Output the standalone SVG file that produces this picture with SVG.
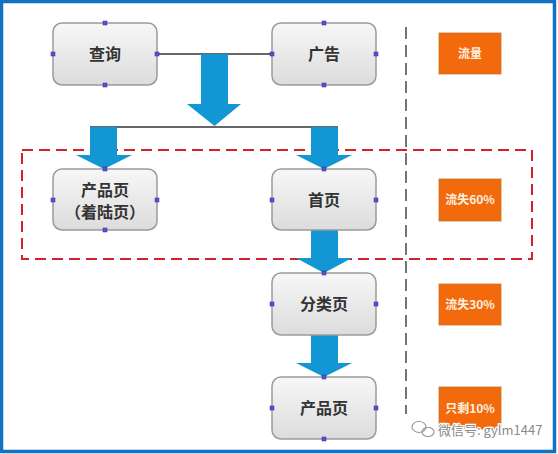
<svg xmlns="http://www.w3.org/2000/svg" width="558" height="454" viewBox="0 0 558 454">
<defs>
<linearGradient id="g" x1="0" y1="0" x2="0" y2="1">
<stop offset="0" stop-color="#f7f7f7"/>
<stop offset="1" stop-color="#dcdcdc"/>
</linearGradient>
<style>
.node{fill:url(#g);stroke:#9a9a9a;stroke-width:1.5}
.t{font-family:"Noto Sans CJK SC","Liberation Sans",sans-serif;font-size:16px;font-weight:bold;fill:#333;text-anchor:middle}
.tag{fill:#f26a0c;stroke:#c0772e;stroke-width:0.8}
.tt{font-family:"Noto Sans CJK SC","Liberation Sans",sans-serif;font-size:12px;font-weight:bold;fill:#fdf0e0;text-anchor:middle}
.arr{fill:#1296d4}
.mk{fill:#5a52d0;stroke:#2a2aa0;stroke-width:0.5}
</style>
</defs>
<rect x="0" y="0" width="558" height="454" fill="#fff"/>
<rect x="1.5" y="1.5" width="553" height="450" fill="none" stroke="#1172c4" stroke-width="3.5"/>

<rect x="22" y="150" width="510" height="109" fill="none" stroke="#d2232a" stroke-width="2" stroke-dasharray="11,6"/>
<line x1="406" y1="27" x2="406" y2="414" stroke="#666" stroke-width="1.8" stroke-dasharray="12,6"/>

<g id="connectors">
<line x1="157" y1="54" x2="272" y2="54" stroke="#333" stroke-width="1.5"/>
<line x1="90" y1="127" x2="338" y2="127" stroke="#333" stroke-width="1.5"/>
<polygon class="arr" points="201,54 228,54 228,104 241,104 214.5,126 187,104 201,104"/>
<polygon class="arr" points="90,127 117,127 117,155 132,155 104,169 76,155 90,155"/>
<polygon class="arr" points="311,127 338,127 338,155 352,155 324,169 296,155 311,155"/>
<polygon class="arr" points="311,230 338,230 338,258 352,258 324,273 296,258 311,258"/>
<polygon class="arr" points="311,335 338,335 338,363 352,363 324,377 296,363 311,363"/>
</g>

<g id="node-chaxun">
<rect class="node" x="53" y="23" width="104" height="62" rx="9"/>
<text class="t" x="105" y="60">查询</text>
</g>
<g id="node-guanggao">
<rect class="node" x="272" y="23" width="104" height="62" rx="9"/>
<text class="t" x="324" y="60">广告</text>
</g>
<g id="node-chanpinye1">
<rect class="node" x="53" y="169" width="104" height="61" rx="9"/>
<text class="t" x="105" y="196">产品页</text>
<text class="t" x="105" y="218">（着陆页）</text>
</g>
<g id="node-shouye">
<rect class="node" x="272" y="169" width="104" height="61" rx="9"/>
<text class="t" x="324" y="206">首页</text>
</g>
<g id="node-fenleiye">
<rect class="node" x="272" y="273" width="104" height="62" rx="9"/>
<text class="t" x="324" y="310">分类页</text>
</g>
<g id="node-chanpinye2">
<rect class="node" x="272" y="377" width="104" height="62" rx="9"/>
<text class="t" x="324" y="414">产品页</text>
</g>

<g id="markers">
<rect class="mk" x="103" y="21" width="4" height="4"/>
<rect class="mk" x="103" y="83" width="4" height="4"/>
<rect class="mk" x="51" y="52" width="4" height="4"/>
<rect class="mk" x="155" y="52" width="4" height="4"/>
<rect class="mk" x="322" y="21" width="4" height="4"/>
<rect class="mk" x="322" y="83" width="4" height="4"/>
<rect class="mk" x="270" y="52" width="4" height="4"/>
<rect class="mk" x="374" y="52" width="4" height="4"/>
<rect class="mk" x="103" y="167" width="4" height="4"/>
<rect class="mk" x="103" y="228" width="4" height="4"/>
<rect class="mk" x="51" y="198" width="4" height="4"/>
<rect class="mk" x="155" y="198" width="4" height="4"/>
<rect class="mk" x="322" y="167" width="4" height="4"/>
<rect class="mk" x="270" y="198" width="4" height="4"/>
<rect class="mk" x="374" y="198" width="4" height="4"/>
<rect class="mk" x="322" y="271" width="4" height="4"/>
<rect class="mk" x="270" y="302" width="4" height="4"/>
<rect class="mk" x="374" y="302" width="4" height="4"/>
<rect class="mk" x="322" y="375" width="4" height="4"/>
<rect class="mk" x="322" y="437" width="4" height="4"/>
<rect class="mk" x="270" y="406" width="4" height="4"/>
<rect class="mk" x="374" y="406" width="4" height="4"/>
</g>

<g id="tag1"><rect class="tag" x="439" y="33" width="62" height="41"/><text class="tt" x="470" y="58">流量</text></g>
<g id="tag2"><rect class="tag" x="439" y="179" width="62" height="42"/><text class="tt" x="470" y="204">流失60%</text></g>
<g id="tag3"><rect class="tag" x="439" y="284" width="62" height="41"/><text class="tt" x="470" y="309">流失30%</text></g>
<g id="tag4"><rect class="tag" x="439" y="387" width="62" height="42"/><text class="tt" x="470" y="413">只剩10%</text></g>

<g id="watermark">
<g fill="none" stroke="#999" stroke-width="1.2">
<ellipse cx="419" cy="427" rx="7" ry="5.5"/>
<ellipse cx="428" cy="432" rx="6" ry="4.5"/>
</g>
<text x="438" y="435" font-family="'Noto Sans CJK SC','Liberation Sans',sans-serif" font-size="13" fill="#8a8a8a" stroke="#fff" stroke-width="2.5" paint-order="stroke">微信号: gylm1447</text>
</g>
</svg>
